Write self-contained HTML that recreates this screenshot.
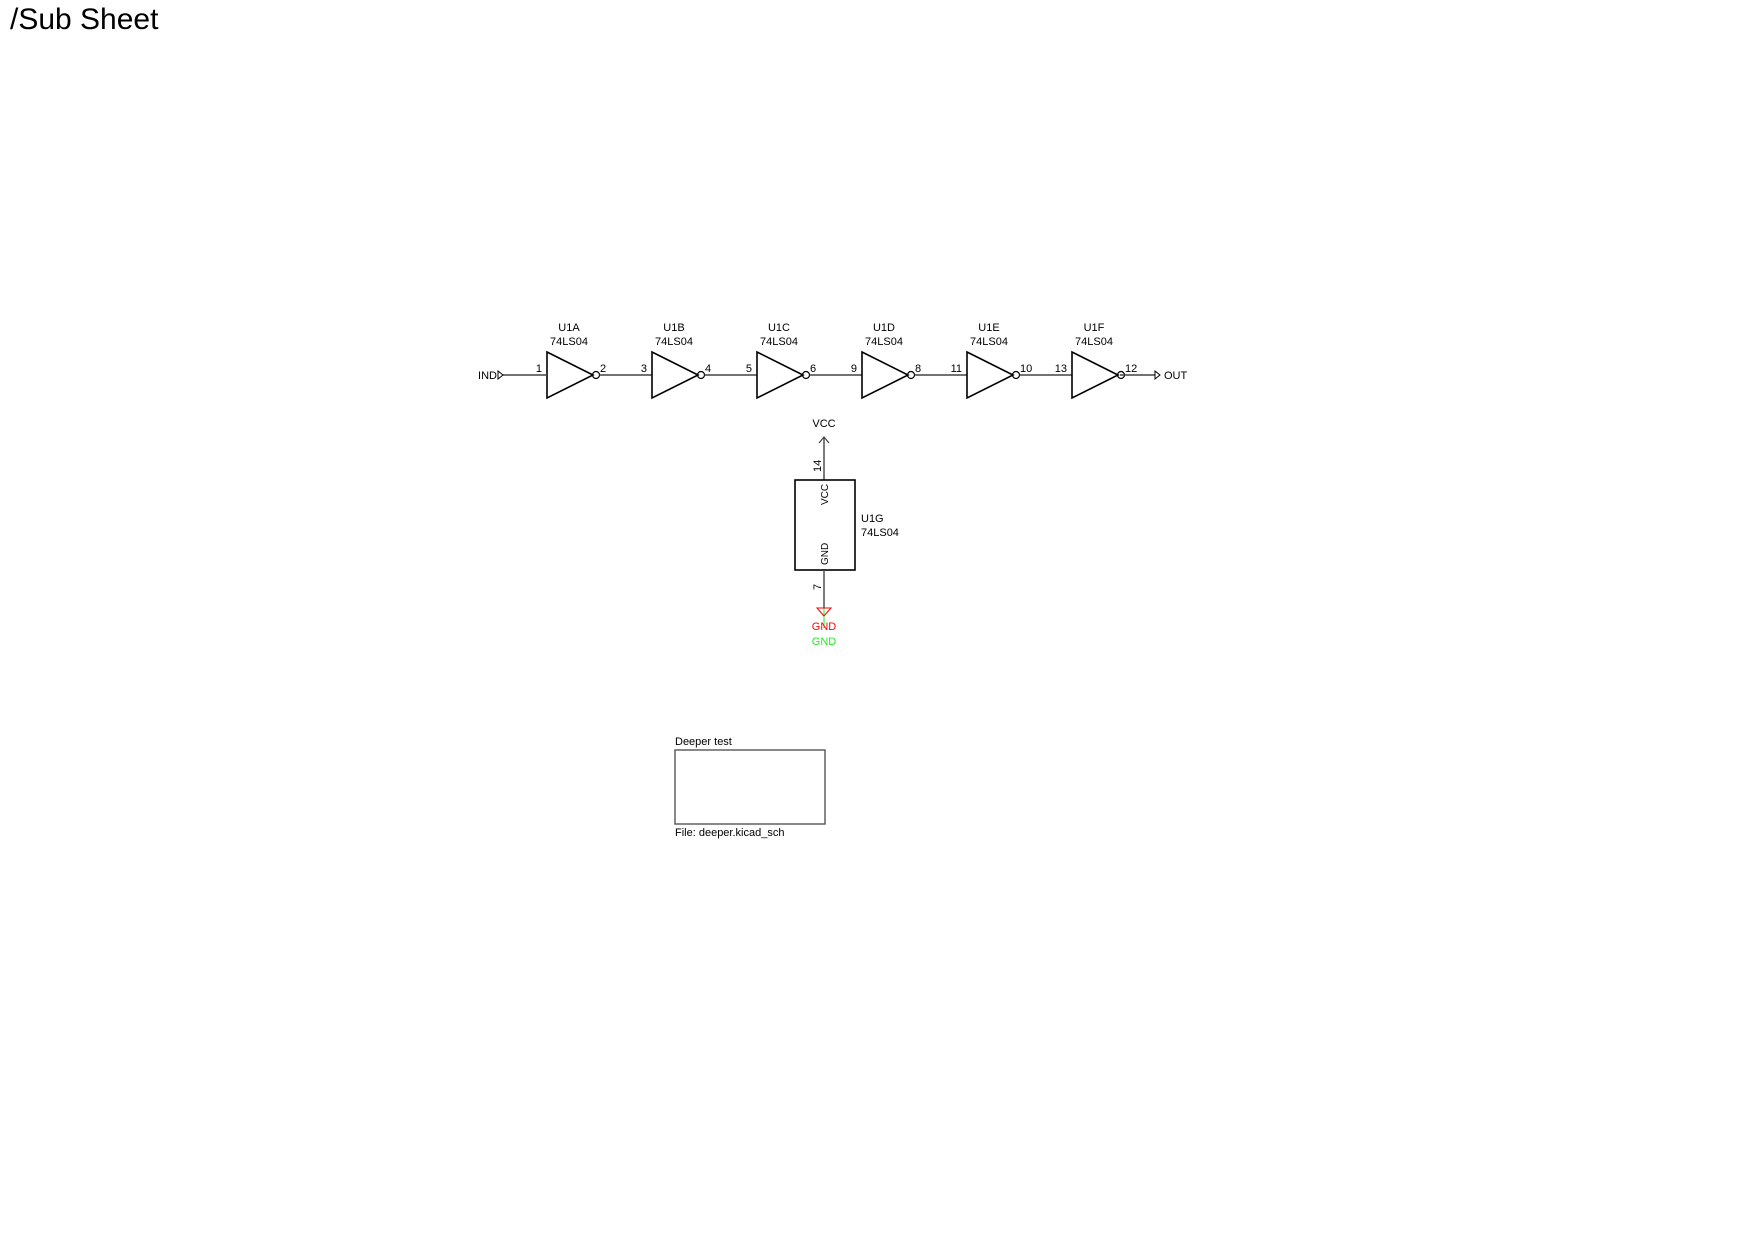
<!DOCTYPE html>
<html><head><meta charset="utf-8"><style>
html,body{margin:0;padding:0;background:#fff;width:1754px;height:1241px;overflow:hidden}
svg{display:block}
text{font-family:"Liberation Sans",sans-serif;}
</style></head><body>
<svg id="s" width="1754" height="1241" viewBox="0 0 1754 1241">
<text x="10" y="29" font-size="30" fill="#000">/Sub Sheet</text>
<g id="gates" stroke="#000" fill="none" stroke-width="1.6"></g>
<g id="lbl" font-size="11" fill="#000"></g>
<g>
<line x1="503" y1="375" x2="547" y2="375" stroke="#444" stroke-width="1.4"/>
<polygon points="498,371 503,375 498,379" fill="none" stroke="#000" stroke-width="1"/>
<text x="497" y="379" font-size="11" text-anchor="end">IND</text>
</g>
<g>
<line x1="1120" y1="375" x2="1155" y2="375" stroke="#444" stroke-width="1.4"/>
<polygon points="1155,371 1160,375 1155,379" fill="none" stroke="#000" stroke-width="1"/>
<text x="1164" y="379" font-size="11">OUT</text>
</g>
<g>
<line x1="824" y1="437" x2="824" y2="480" stroke="#444" stroke-width="1.4"/>
<polyline points="819,443 824,437 829,443" fill="none" stroke="#444" stroke-width="1.2"/>
<text x="824" y="427" font-size="11" text-anchor="middle">VCC</text>
<rect x="795" y="480" width="60" height="90" fill="none" stroke="#000" stroke-width="1.6"/>
<text transform="translate(821,472) rotate(-90)" font-size="11">14</text>
<text transform="translate(828,505) rotate(-90)" font-size="10">VCC</text>
<text transform="translate(828,565) rotate(-90)" font-size="10">GND</text>
<text x="861" y="522" font-size="11">U1G</text>
<text x="861" y="536" font-size="11">74LS04</text>
<line x1="824" y1="570" x2="824" y2="608" stroke="#444" stroke-width="1.4"/>
<text transform="translate(821,590) rotate(-90)" font-size="11">7</text>
<line x1="824" y1="608" x2="824" y2="628" stroke="#2e2" stroke-width="1"/>
<polygon points="817,608 831,608 824,616" fill="none" stroke="#f00" stroke-width="1"/>
<text x="824" y="630" font-size="11" fill="#f00" text-anchor="middle">GND</text>
<text x="824" y="645" font-size="11" fill="#2e2" text-anchor="middle">GND</text>
</g>
<g>
<text x="675" y="745" font-size="11">Deeper test</text>
<rect x="675" y="750" width="150" height="74" fill="none" stroke="#555" stroke-width="1.4"/>
<text x="675" y="836" font-size="11">File: deeper.kicad_sch</text>
</g>
</svg>
<script>
const gateNames=["U1A","U1B","U1C","U1D","U1E","U1F"];
const inPins=["1","3","5","9","11","13"];
const outPins=["2","4","6","8","10","12"];
const g=document.getElementById('gates'),L=document.getElementById('lbl');
const NS="http://www.w3.org/2000/svg";
function mk(p,t,a){const e=document.createElementNS(NS,t);for(const k in a)e.setAttribute(k,a[k]);p.appendChild(e);return e;}
gateNames.forEach((n,i)=>{
 const x=547+i*105;
 const tri=mk(g,'polygon',{points:`${x},352 ${x+46},375 ${x},398`});
 
 
 mk(g,'circle',{cx:x+49,cy:375,r:3.5,'stroke-width':1.2});
 if(i<5){mk(g,'line',{x1:x+52.5,y1:375,x2:x+105,y2:375,stroke:'#444','stroke-width':1.4});}
 const t1=mk(L,'text',{x:x+22,y:331,'text-anchor':'middle'});t1.textContent=n;
 const t2=mk(L,'text',{x:x+22,y:345,'text-anchor':'middle'});t2.textContent='74LS04';
 const p1=mk(L,'text',{x:x-5,y:372,'text-anchor':'end'});p1.textContent=inPins[i];
 const p2=mk(L,'text',{x:x+53,y:372});p2.textContent=outPins[i];
});
</script>
</body></html>
